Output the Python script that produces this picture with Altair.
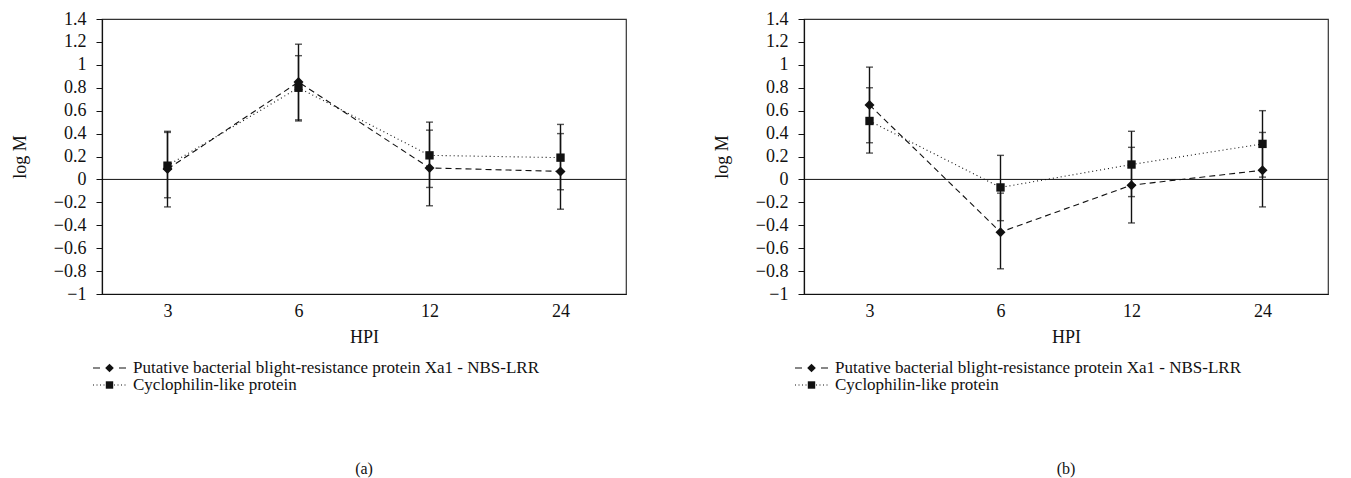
import altair as alt
import pandas as pd

# ---------------- data ----------------
hpi = ["3", "6", "12", "24"]
series_names = [
    "Putative bacterial blight-resistance protein Xa1 - NBS-LRR",
    "Cyclophilin-like protein",
]
y_ticks = [-1, -0.8, -0.6, -0.4, -0.2, 0, 0.2, 0.4, 0.6, 0.8, 1, 1.2, 1.4]

# panel (a)
a_xa1 = [0.09, 0.85, 0.10, 0.07]
a_xa1_lo = [-0.24, 0.52, -0.23, -0.26]
a_xa1_hi = [0.42, 1.18, 0.43, 0.40]
a_cyc = [0.12, 0.80, 0.21, 0.19]
a_cyc_lo = [-0.16, 0.51, -0.07, -0.09]
a_cyc_hi = [0.41, 1.08, 0.50, 0.48]

# panel (b)
b_xa1 = [0.65, -0.46, -0.05, 0.08]
b_xa1_lo = [0.32, -0.78, -0.38, -0.24]
b_xa1_hi = [0.98, -0.12, 0.28, 0.41]
b_cyc = [0.51, -0.07, 0.13, 0.31]
b_cyc_lo = [0.23, -0.36, -0.15, 0.02]
b_cyc_hi = [0.80, 0.21, 0.42, 0.60]

FONT = "Liberation Serif"
INK = "#111111"
W, H = 524, 275


def one():
    return alt.Chart(pd.DataFrame({"z": [0]}))


def panel(xa1, xa1_lo, xa1_hi, cyc, cyc_lo, cyc_hi, tag):
    df = pd.DataFrame({
        "hpi": hpi * 2,
        "series": [series_names[0]] * 4 + [series_names[1]] * 4,
        "value": xa1 + cyc,
        "lo": xa1_lo + cyc_lo,
        "hi": xa1_hi + cyc_hi,
    })
    yscale = alt.Scale(domain=[-1, 1.4], nice=False, zero=False)
    x = alt.X(
        "hpi:O", sort=hpi,
        scale=alt.Scale(type="point", padding=0.5),
        axis=alt.Axis(title="HPI", labelAngle=0, ticks=False, labelPadding=8,
                      titlePadding=8),
    )
    yaxis = alt.Axis(values=y_ticks, format="~f", tickSize=6, labelPadding=10,
                     titlePadding=24, labelOverlap=False)

    def Y(field):
        return alt.Y(field, title="log M", scale=yscale, axis=yaxis)

    base = alt.Chart(df)

    zero = one().mark_rule(color=INK, strokeWidth=1).encode(y=Y("z:Q"))

    bars = base.mark_rule(color=INK, strokeWidth=1.4).encode(
        x=x, y=Y("lo:Q"), y2="hi:Q")
    cap_lo = base.mark_tick(color=INK, thickness=1.4, size=7).encode(x=x, y=Y("lo:Q"))
    cap_hi = base.mark_tick(color=INK, thickness=1.4, size=7).encode(x=x, y=Y("hi:Q"))

    lines = base.mark_line(color=INK, strokeWidth=1.1).encode(
        x=x, y=Y("value:Q"),
        strokeDash=alt.StrokeDash(
            "series:N",
            scale=alt.Scale(domain=series_names, range=[[6, 4], [1, 3]]),
            legend=None),
        detail="series:N",
    )
    squares = base.transform_filter(alt.datum.series == series_names[1]).mark_point(
        shape="square", filled=True, size=70, color=INK, opacity=1).encode(
        x=x, y=Y("value:Q"))
    diamonds = base.transform_filter(alt.datum.series == series_names[0]).mark_point(
        shape="diamond", filled=True, size=100, color=INK, opacity=1).encode(
        x=x, y=Y("value:Q"))

    # custom legend below the plot
    r1, r2 = 349, 366
    sx0, sx1, sc, tx = -9, 24, 7.5, 31
    leg = [
        one().mark_rule(color=INK, strokeWidth=1.1, strokeDash=[7, 19]).encode(
            x=alt.value(sx0), x2=alt.value(sx1), y=alt.value(r1)),
        one().mark_point(shape="diamond", filled=True, size=75, color=INK, opacity=1).encode(
            x=alt.value(sc), y=alt.value(r1)),
        one().mark_text(font=FONT, fontSize=17, align="left", baseline="middle", color=INK).encode(
            x=alt.value(tx), y=alt.value(r1), text=alt.value(series_names[0])),
        one().mark_rule(color=INK, strokeWidth=1.1, strokeDash=[1, 2.5]).encode(
            x=alt.value(sx0), x2=alt.value(sx1), y=alt.value(r2)),
        one().mark_point(shape="square", filled=True, size=55, color=INK, opacity=1).encode(
            x=alt.value(sc), y=alt.value(r2)),
        one().mark_text(font=FONT, fontSize=17, align="left", baseline="middle", color=INK).encode(
            x=alt.value(tx), y=alt.value(r2), text=alt.value(series_names[1])),
        one().mark_text(font=FONT, fontSize=16, align="center", baseline="middle", color=INK).encode(
            x=alt.value(W / 2), y=alt.value(450), text=alt.value(tag)),
    ]

    return alt.layer(zero, bars, cap_lo, cap_hi, lines, squares, diamonds, *leg).properties(
        width=W, height=H)


pa = panel(a_xa1, a_xa1_lo, a_xa1_hi, a_cyc, a_cyc_lo, a_cyc_hi, "(a)")
pb = panel(b_xa1, b_xa1_lo, b_xa1_hi, b_cyc, b_cyc_lo, b_cyc_hi, "(b)")

chart = alt.hconcat(pa, pb, spacing=84).configure(
    background="white",
    padding={"left": 2, "top": 1, "right": 5, "bottom": 0},
).configure_view(
    stroke="#333333", strokeWidth=1.2
).configure_axis(
    labelFont=FONT, titleFont=FONT, labelFontSize=18, titleFontSize=18,
    labelColor=INK, titleColor=INK, titleFontWeight="normal",
    domainColor=INK, tickColor=INK, grid=False, domainWidth=1.2,
    labelOverlap=False,
)

chart.save("out.html", embed_options={"renderer": "svg", "actions": False})
